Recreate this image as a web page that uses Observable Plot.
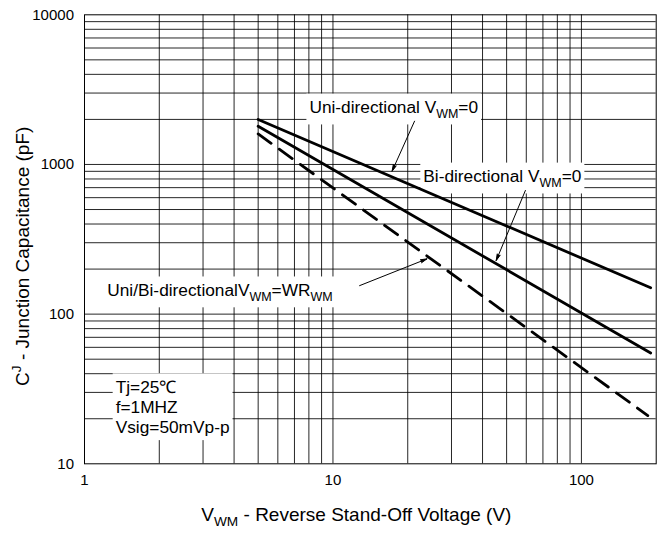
<!DOCTYPE html>
<html>
<head>
<meta charset="utf-8">
<script src="https://cdn.jsdelivr.net/npm/d3@7"></script>
<script src="https://cdn.jsdelivr.net/npm/@observablehq/plot@0.6"></script>
<style>
  html, body { margin: 0; padding: 0; background: white; }
  #chart { width: 667px; height: 542px; }
</style>
</head>
<body>
<div id="chart"></div>
<script>
// ---- data ----
const xGrid = [2, 3, 4, 5, 6, 7, 8, 9, 10, 20, 30, 40, 50, 60, 70, 80, 90, 100];
const yGrid = [20, 30, 40, 50, 60, 70, 80, 90, 100, 200, 300, 400, 500, 600, 700, 800, 900,
               1000, 2000, 3000, 4000, 5000, 6000, 7000, 8000, 9000];
const xTicks = [1, 10, 100];
const yTicks = [10, 100, 1000, 10000];

// Uni-directional VWM=0
const uniV = [5, 190];
const uniC = [2000, 150];
// Bi-directional VWM=0
const biV = [5, 190];
const biC = [1800, 55];
// Uni/Bi-directional VWM=WRWM (dashed)
const wrV = [5, 185];
const wrC = [1600, 21];

// annotations
const labelText = ["Uni-directional V_{WM}=0", "Bi-directional V_{WM}=0", "Uni/Bi-directionalV_{WM}=WR_{WM}"];
const labelX = [8.04, 23.1, 1.235];
const labelY = [2400, 830, 144];
const noteText = ["Tj=25℃\nf=1MHZ\nVsig=50mVp-p"];
const noteX = [1.335];
const noteY = [24.2];
const arrowX1 = [21.3, 59.5, 12.8];
const arrowY1 = [1946, 670, 155];
const arrowX2 = [17.3, 45.4, 23.9];
const arrowY2 = [902, 228, 234];

const xTitle = ["V_{WM} - Reverse Stand-Off Voltage (V)"];
const yTitle = ["C^{J} - Junction Capacitance (pF)"];

function series(v, c) { return v.map((d, i) => ({v: d, c: c[i]})); }

const chart = Plot.plot({
  width: 667,
  height: 542,
  marginLeft: 84,
  marginRight: 11.3,
  marginTop: 14.3,
  marginBottom: 78.7,
  style: {fontFamily: "'Liberation Sans', Arial, sans-serif", background: "white", color: "black", overflow: "visible"},
  x: {type: "log", domain: [1, 200]},
  y: {type: "log", domain: [10, 10000]},
  marks: [
    Plot.ruleX(xGrid, {stroke: "#000", strokeWidth: 1, strokeOpacity: 0.85}),
    Plot.ruleY(yGrid, {stroke: "#000", strokeWidth: 1, strokeOpacity: 0.85}),
    Plot.frame({stroke: "black", strokeWidth: 1}),
    Plot.axisX({ticks: xTicks, tickSize: 0, tickPadding: 11, fontSize: 15, tickFormat: d => String(d), label: null}),
    Plot.axisY({ticks: yTicks, tickSize: 0, tickPadding: 10.5, fontSize: 15, tickFormat: d => String(d), label: null}),
    Plot.text(labelText, {x: labelX, y: labelY, text: d => d, textAnchor: "start", fontSize: 17.3, fill: "black"}),
    Plot.text(noteText, {x: noteX, y: noteY, text: d => d, textAnchor: "start", lineAnchor: "middle", lineHeight: 1.15, fontSize: 17.3, fill: "black"}),
    Plot.line(series(uniV, uniC), {x: "v", y: "c", stroke: "black", strokeWidth: 2.8}),
    Plot.line(series(biV, biC), {x: "v", y: "c", stroke: "black", strokeWidth: 2.8}),
    Plot.line(series(wrV, wrC), {x: "v", y: "c", stroke: "black", strokeWidth: 2.8, strokeDasharray: "16,10"}),
    Plot.arrow(arrowX1.map((d, i) => i), {x1: arrowX1, y1: arrowY1, x2: arrowX2, y2: arrowY2, stroke: "black", strokeWidth: 1, headAngle: 28, headLength: 10}),
    Plot.text(xTitle, {frameAnchor: "bottom", textAnchor: "middle", dy: 57, dx: -14, fontSize: 19, fill: "black", text: d => d}),
    Plot.text(yTitle, {frameAnchor: "left", textAnchor: "middle", dx: -62, dy: 17, rotate: -90, fontSize: 19, fill: "black", text: d => d})
  ]
});

document.getElementById("chart").appendChild(chart);

const allTexts = Array.from(chart.querySelectorAll("text"));
const annoSet = new Set([...labelText, ...noteText.map(s => s.replace(/\n/g, ""))]);
const annoEls = allTexts.filter(t => annoSet.has(t.textContent));
const titleSet = new Set([...xTitle, ...yTitle]);

// rich text: _{sub} and ^{sup}
function richify(el, fontSize) {
  if (el.querySelector("tspan")) return;
  const s = el.textContent;
  if (!/[_^]\{/.test(s)) return;
  el.textContent = "";
  let offset = 0;
  const add = (txt, kind) => {
    const t = document.createElementNS("http://www.w3.org/2000/svg", "tspan");
    const target = kind === 1 ? 0.28 * fontSize : kind === -1 ? -0.38 * fontSize : 0;
    if (target !== offset) t.setAttribute("dy", (target - offset).toFixed(2));
    offset = target;
    if (kind !== 0) t.setAttribute("font-size", (fontSize * 0.72).toFixed(2));
    t.textContent = txt;
    el.appendChild(t);
  };
  const re = /([_^])\{([^}]*)\}/g;
  let last = 0, m;
  while ((m = re.exec(s))) {
    if (m.index > last) add(s.slice(last, m.index), 0);
    add(m[2], m[1] === "_" ? 1 : -1);
    last = re.lastIndex;
  }
  if (last < s.length) add(s.slice(last), 0);
}

allTexts.forEach(t => {
  if (titleSet.has(t.textContent)) richify(t, 19);
  else if (labelText.includes(t.textContent)) richify(t, 17.3);
});

// white boxes behind annotations
annoEls.forEach(t => {
  const b = t.getBBox();
  const r = document.createElementNS("http://www.w3.org/2000/svg", "rect");
  const px = 3, py = 3.5;
  r.setAttribute("x", b.x - px);
  r.setAttribute("y", b.y - py);
  r.setAttribute("width", b.width + 2 * px);
  r.setAttribute("height", b.height + 2 * py);
  r.setAttribute("fill", "white");
  const tr = t.getAttribute("transform");
  if (tr) r.setAttribute("transform", tr);
  t.parentNode.insertBefore(r, t);
});

// filled arrowheads
chart.querySelectorAll('g[aria-label="arrow"] path').forEach(p => p.setAttribute("fill", "black"));
</script>
</body>
</html>
